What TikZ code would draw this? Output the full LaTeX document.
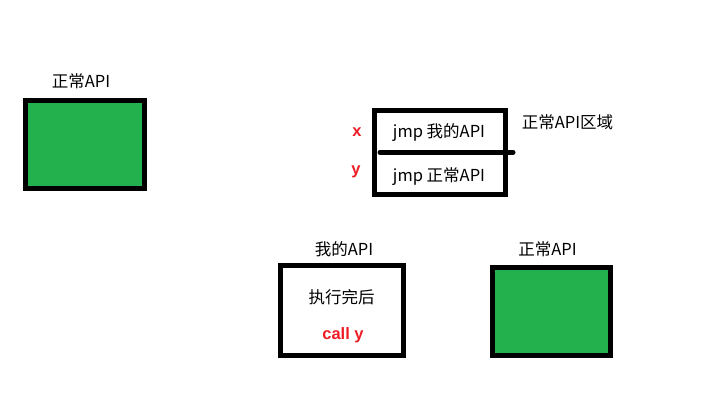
\documentclass[tikz,border=0pt]{standalone}
\usepackage{fontspec}
\setmainfont{Noto Sans CJK SC}
\newfontfamily\latbold{Liberation Sans}
\definecolor{paintgreen}{HTML}{22B14C}
\definecolor{paintred}{HTML}{ED1C24}
\tikzset{
  apibox/.style={draw=black, line width=5pt, inner sep=0pt},
  label/.style={inner sep=0pt, font=\fontsize{16.5}{19}\selectfont},
  redmark/.style={inner sep=0pt, text=paintred, font=\latbold\bfseries\fontsize{16.5}{19}\selectfont}
}
\begin{document}
\begin{tikzpicture}[x=1pt,y=-1pt]
\useasboundingbox (0,0) rectangle (717,401);
% left: normal API
\node[apibox, fill=paintgreen, minimum width=119pt, minimum height=87.5pt] (normalleft) at (85,144.3) {};
\node[label] (normalleftlbl) at (81,81) {正常API};
% top: normal API region with two jumps
\node[apibox, minimum width=131.3pt, minimum height=83.4pt] (region) at (439.9,152.5) {};
\coordinate (divl) at (380,152.3);
\coordinate (divr) at (513,152.3);
\draw[line width=5pt, line cap=round] (divl) -- (divr);
\node[label] (jmpmine) at (439,133) {jmp 我的API};
\node[label] (jmpnormal) at (439,177) {jmp 正常API};
\node[redmark] (x) at (357,132) {x};
\node[redmark] (y) at (356,172) {y};
\node[label] (regionlbl) at (567.5,122.5) {正常API区域};
% bottom: my API
\node[apibox, minimum width=123pt, minimum height=90pt] (mine) at (342,310.5) {};
\node[label] (minelbl) at (344,249) {我的API};
\node[label] (done) at (341.7,296.7) {执行完后};
\node[redmark] (cally) at (343,335) {call y};
% bottom: normal API
\node[apibox, fill=paintgreen, minimum width=118pt, minimum height=88pt] (normalright) at (551.5,311.5) {};
\node[label] (normalrightlbl) at (547.5,249) {正常API};
\end{tikzpicture}
\end{document}
